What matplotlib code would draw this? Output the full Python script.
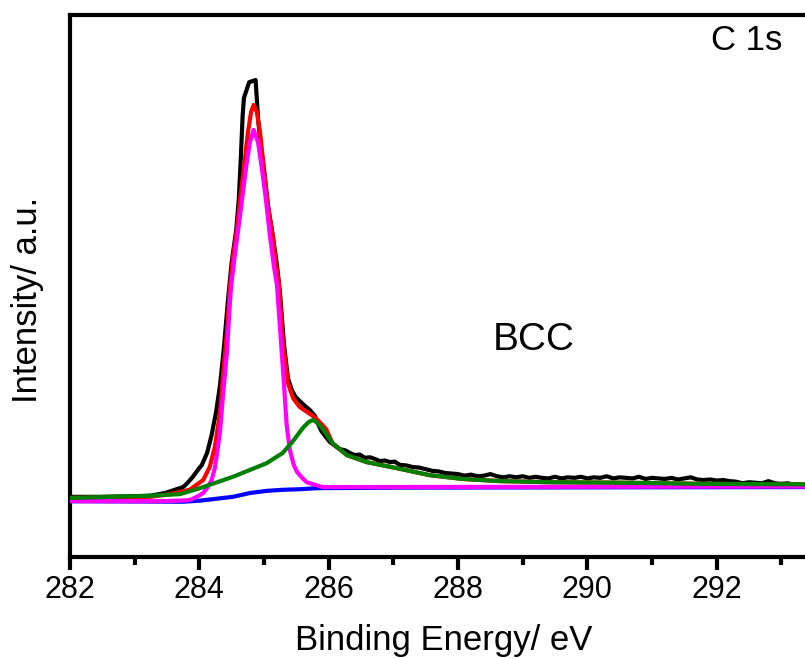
import matplotlib
matplotlib.use("Agg")
import matplotlib.pyplot as plt
from matplotlib.ticker import MultipleLocator, NullLocator

plt.rcParams['font.family'] = ['Liberation Sans', 'DejaVu Sans']

# ---------------- data (binding energy in eV, intensity in a.u.) ----------------
raw_x = [282.00, 282.46, 282.93, 283.24, 283.47, 283.62, 283.75, 283.82, 283.90, 283.98,
         284.04, 284.12, 284.19, 284.26, 284.32, 284.38, 284.44, 284.50, 284.57, 284.61,
         284.64, 284.67, 284.69, 284.77, 284.87, 284.91, 284.95, 285.00, 285.06, 285.14,
         285.20, 285.25, 285.31, 285.37, 285.43, 285.49, 285.55, 285.63, 285.71, 285.79,
         285.83, 285.89, 285.96, 286.02, 286.10, 286.17, 286.25, 286.33, 286.40, 286.48,
         286.56, 286.64, 286.71, 286.79, 286.87, 286.95, 287.02, 287.10,
         287.2, 287.3, 287.4, 287.5, 287.6, 287.7, 287.8, 287.9, 288.0, 288.1, 288.2,
         288.3, 288.4, 288.5, 288.6, 288.7, 288.8, 288.9, 289.0, 289.1, 289.2, 289.3,
         289.4, 289.5, 289.6, 289.7, 289.8, 289.9, 290.0, 290.1, 290.2, 290.3, 290.4,
         290.5, 290.6, 290.7, 290.8, 290.9, 291.0, 291.1, 291.2, 291.3, 291.4, 291.5,
         291.6, 291.7, 291.8, 291.9, 292.0, 292.1, 292.2, 292.3, 292.4, 292.5, 292.6,
         292.7, 292.8, 292.9, 293.0, 293.1, 293.2, 293.3, 293.4]
raw_y = [11.1, 11.1, 11.2, 11.3, 11.8, 12.4, 12.9, 13.7, 14.8, 16.1,
         17.0, 19.2, 22.5, 26.8, 31.7, 38.6, 47.0, 54.4, 60.3, 65.9,
         73.2, 81.5, 84.7, 87.6, 88.0, 80.6, 76.0, 71.4, 64.9, 58.9,
         53.9, 48.3, 39.1, 33.0, 30.8, 29.5, 28.8, 27.9, 27.1, 26.0,
         24.7, 23.2, 22.1, 21.2, 20.5, 19.9, 19.7, 19.2, 18.8, 18.9,
         18.3, 18.4, 18.1, 17.7, 17.8, 17.5, 17.6, 17.0,
         16.9, 16.6, 16.5, 16.2, 15.9, 15.8, 15.5, 15.4, 15.3, 15.0, 15.2,
         14.9, 15.0, 15.3, 14.9, 14.7, 14.9, 14.7, 14.9, 14.6, 14.8, 14.6,
         14.5, 14.8, 14.5, 14.7, 14.6, 14.8, 14.5, 14.7, 14.6, 14.9, 14.5,
         14.7, 14.6, 14.5, 14.8, 14.4, 14.6, 14.5, 14.4, 14.6, 14.3, 14.5,
         14.7, 14.3, 14.2, 14.3, 14.1, 14.2, 14.0, 13.9, 13.6, 13.8, 13.7,
         13.6, 14.0, 13.6, 13.5, 13.6, 13.3, 13.2, 13.2]

env_x = [282.00, 283.24, 283.55, 283.85, 284.06, 284.16, 284.24, 284.32, 284.36, 284.43,
         284.47, 284.52, 284.57, 284.63, 284.69, 284.75, 284.80, 284.84, 284.89, 284.94,
         285.00, 285.06, 285.14, 285.18, 285.23, 285.29, 285.37, 285.45, 285.55, 285.66,
         285.76, 285.86, 285.96, 286.06, 286.28, 286.59, 287.05, 287.56, 288.07, 288.65,
         289.42, 290.61, 291.74, 293.40]
env_y = [10.9, 11.1, 11.6, 12.4, 14.2, 16.6, 20.3, 26.6, 32.7, 41.9,
         49.3, 55.4, 59.4, 65.9, 71.8, 78.2, 82.1, 83.4, 82.1, 78.2,
         71.4, 64.9, 59.0, 54.4, 50.6, 40.0, 32.1, 29.3, 27.7, 26.8,
         26.0, 24.9, 23.6, 21.0, 18.8, 17.5, 16.4, 15.1, 14.4, 14.0,
         13.8, 13.7, 13.5, 13.4]

bg_x = [282.00, 283.75, 284.01, 284.52, 284.78, 285.04, 285.29, 285.55, 285.82, 287.10, 293.40]
bg_y = [10.3, 10.2, 10.4, 11.1, 11.8, 12.2, 12.4, 12.5, 12.7, 12.8, 12.9]

cc_x = [282.00, 283.39, 283.70, 283.85, 283.96, 284.06, 284.13, 284.19, 284.24, 284.27,
        284.32, 284.36, 284.43, 284.46, 284.49, 284.54, 284.60, 284.66, 284.72, 284.78,
        284.84, 284.91, 284.97, 285.03, 285.09, 285.15, 285.20, 285.25, 285.31, 285.35,
        285.40, 285.46, 285.51, 285.59, 285.66, 285.79, 285.91, 293.40]
cc_y = [10.3, 10.3, 10.4, 10.5, 11.1, 11.8, 12.9, 14.2, 16.4, 18.8,
        23.1, 29.0, 38.2, 44.6, 49.8, 54.8, 60.3, 65.9, 71.6, 76.4,
        78.8, 76.4, 71.4, 65.9, 59.4, 53.9, 50.2, 41.9, 31.7, 24.4,
        19.7, 17.0, 15.7, 14.6, 13.8, 13.3, 12.9, 13.0]

co_x = [282.00, 283.24, 283.70, 284.01, 284.52, 285.04, 285.29, 285.45, 285.60, 285.69,
        285.76, 285.83, 285.91, 286.06, 286.28, 286.59, 287.05, 287.56, 288.07, 288.65,
        289.42, 290.61, 291.74, 293.40]
co_y = [10.9, 11.3, 11.6, 12.7, 14.8, 17.3, 19.2, 21.4, 23.8, 24.9,
        25.3, 24.7, 23.6, 21.0, 18.8, 17.5, 16.4, 15.1, 14.4, 14.0,
        13.8, 13.7, 13.5, 13.4]

xticks = [282, 284, 286, 288, 290, 292]

# ---------------- figure ----------------
W, H = 805, 659
fig = plt.figure(figsize=(W / 100, H / 100), dpi=100)
ax = fig.add_axes([70 / W, (H - 557) / H, 776 / W, (557 - 15) / H])

lw = 3.0
ax.plot(raw_x, raw_y, color='black', lw=lw, zorder=2, solid_joinstyle='round')
ax.plot(env_x, env_y, color='#ff0000', lw=lw, zorder=3, solid_joinstyle='round')
ax.plot(bg_x, bg_y, color='#0000ff', lw=lw, zorder=4, solid_joinstyle='round')
ax.plot(cc_x, cc_y, color='#ff00ff', lw=lw, zorder=5, solid_joinstyle='round')
ax.plot(co_x, co_y, color='#008000', lw=lw, zorder=6, solid_joinstyle='round')

ax.set_xlim(282, 294)
ax.set_ylim(0, 100)
ax.set_xticks(xticks)
ax.set_xticklabels([str(t) for t in xticks])
ax.xaxis.set_minor_locator(MultipleLocator(1))
ax.yaxis.set_major_locator(NullLocator())
ax.yaxis.set_minor_locator(NullLocator())
for s in ax.spines.values():
    s.set_linewidth(3.0)
ax.tick_params(axis='x', which='major', direction='out', length=9, width=3.0,
               labelsize=22, pad=4, top=False)
ax.tick_params(axis='x', which='minor', direction='out', length=6, width=3.0, top=False)

fig.text(444 / W, 1 - 650 / H, 'Binding Energy/ eV', fontsize=25, ha='center', va='baseline')
fig.text(28 / W, 1 - 300 / H, 'Intensity/ a.u.', fontsize=25, rotation=90,
         ha='center', va='center')
fig.text(747 / W, 1 - 50 / H, 'C 1s', fontsize=25, ha='center', va='baseline')
fig.text(534 / W, 1 - 350 / H, 'BCC', fontsize=28, ha='center', va='baseline')

fig.savefig('out.png', dpi=100)
